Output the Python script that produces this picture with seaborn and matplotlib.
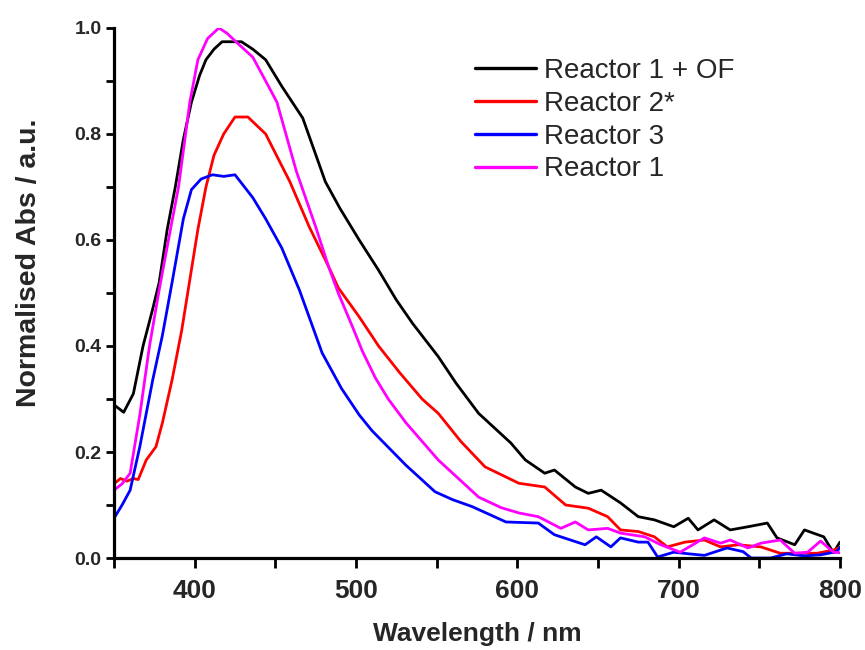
import matplotlib
matplotlib.use("Agg")
import matplotlib.pyplot as plt
from matplotlib.ticker import MultipleLocator, FormatStrFormatter
import pandas as pd
import seaborn as sns

# Absorbance spectra (normalised), wavelength in nm
wl_r1_of = [350, 356, 362, 368, 374, 378, 383, 388, 393, 398, 403, 407, 412, 417, 429,
            436, 444, 454, 467, 474, 481, 490, 502, 514, 525, 535, 551, 562, 576, 596,
            605, 617, 623, 636, 644, 652, 664, 675, 685, 697, 706, 712, 722, 732, 743,
            755, 761, 772, 778, 790, 796, 800]
abs_r1_of = [0.289, 0.275, 0.31, 0.40, 0.47, 0.52, 0.62, 0.70, 0.79, 0.86, 0.91, 0.94, 0.96,
             0.974, 0.974, 0.96, 0.94, 0.89, 0.83, 0.77, 0.71, 0.66, 0.60, 0.543, 0.487,
             0.443, 0.38, 0.33, 0.273, 0.217, 0.185, 0.16, 0.166, 0.134, 0.122, 0.128,
             0.104, 0.078, 0.072, 0.059, 0.075, 0.053, 0.072, 0.053, 0.059, 0.066, 0.038,
             0.025, 0.053, 0.04, 0.01, 0.03]

wl_r2 = [350, 354, 358, 362, 365, 370, 376, 380, 386, 392, 397, 402, 407, 412, 418,
         425, 433, 444, 459, 471, 483, 489, 502, 514, 527, 541, 551, 565, 580, 601, 617,
         630, 644, 656, 664, 675, 685, 693, 704, 716, 726, 737, 751, 763, 775, 786, 796, 800]
abs_r2 = [0.14, 0.15, 0.145, 0.15, 0.148, 0.185, 0.21, 0.255, 0.336, 0.43, 0.525,
          0.62, 0.70, 0.76, 0.80, 0.832, 0.832, 0.80, 0.71, 0.625, 0.55, 0.51, 0.455, 0.40,
          0.35, 0.30, 0.273, 0.22, 0.172, 0.141, 0.134, 0.10, 0.094, 0.078, 0.053, 0.05,
          0.04, 0.021, 0.03, 0.034, 0.021, 0.025, 0.021, 0.009, 0.009, 0.009, 0.015, 0.02]

wl_r3 = [350, 355, 360, 366, 374, 380, 386, 393, 398, 404, 411, 418, 425, 436, 444,
         454, 465, 479, 491, 502, 510, 531, 549, 560, 572, 593, 613, 623, 642, 649, 658,
         664, 675, 681, 687, 697, 706, 716, 730, 740, 745, 757, 767, 778, 788, 798, 800]
abs_r3 = [0.075, 0.10, 0.128, 0.21, 0.336, 0.42, 0.52, 0.64, 0.695, 0.715, 0.723,
          0.72, 0.723, 0.68, 0.64, 0.585, 0.505, 0.387, 0.32, 0.27, 0.24, 0.175, 0.125,
          0.11, 0.097, 0.068, 0.066, 0.044, 0.025, 0.04, 0.021, 0.038, 0.03, 0.03, 0.002,
          0.011, 0.008, 0.005, 0.019, 0.012, 0.0, 0.0, 0.008, 0.004, 0.006, 0.012, 0.02]

wl_r1 = [350, 355, 360, 366, 372, 378, 385, 390, 397, 402, 408, 415, 420, 427, 436,
         444, 451, 463, 475, 483, 489, 498, 504, 512, 520, 531, 551, 576, 590, 601, 613,
         627, 636, 644, 656, 664, 679, 689, 701, 716, 726, 732, 743, 751, 763, 772, 780,
         788, 796, 800]
abs_r1 = [0.128, 0.14, 0.16, 0.27, 0.40, 0.506, 0.62, 0.70, 0.86, 0.94, 0.98, 1.0,
          0.99, 0.97, 0.945, 0.90, 0.86, 0.73, 0.625, 0.55, 0.50, 0.435, 0.39, 0.34, 0.30,
          0.255, 0.185, 0.115, 0.095, 0.085, 0.078, 0.056, 0.068, 0.053, 0.056, 0.047,
          0.04, 0.025, 0.011, 0.038, 0.028, 0.034, 0.019, 0.028, 0.034, 0.009, 0.011,
          0.032, 0.011, 0.01]

labels = ["Reactor 1 + OF", "Reactor 2*", "Reactor 3", "Reactor 1"]
colors = ["#000000", "#ff0000", "#0000ff", "#ff00ff"]

frames = []
for name, wl, ab in zip(labels,
                        [wl_r1_of, wl_r2, wl_r3, wl_r1],
                        [abs_r1_of, abs_r2, abs_r3, abs_r1]):
    frames.append(pd.DataFrame({"Wavelength": wl, "Abs": ab, "Sample": name}))
df = pd.concat(frames, ignore_index=True)

sns.set_style("ticks")
plt.rcParams["font.family"] = ["Liberation Sans", "DejaVu Sans"]

fig = plt.figure(figsize=(8.65, 6.5), dpi=100)
ax = fig.add_axes([0.1318, 0.1415, 0.8392, 0.8155])

sns.lineplot(data=df, x="Wavelength", y="Abs", hue="Sample", hue_order=labels,
             palette=colors, estimator=None, sort=False, linewidth=2.0, ax=ax)

ax.set_xlim(350, 800)
ax.set_ylim(0, 1.0)
ax.xaxis.set_major_locator(MultipleLocator(100))
ax.xaxis.set_minor_locator(MultipleLocator(50))
ax.yaxis.set_major_locator(MultipleLocator(0.2))
ax.yaxis.set_minor_locator(MultipleLocator(0.1))
ax.yaxis.set_major_formatter(FormatStrFormatter("%.1f"))

for side in ["top", "right"]:
    ax.spines[side].set_visible(False)
for side in ["left", "bottom"]:
    ax.spines[side].set_linewidth(2.3)
    ax.spines[side].set_color("black")

ax.tick_params(axis="x", which="both", direction="out", width=2.0, length=7,
               color="black")
ax.tick_params(axis="y", which="both", direction="out", width=2.0, length=6,
               color="black")
ax.tick_params(axis="x", which="major", labelsize=19, pad=8)
ax.tick_params(axis="y", which="major", labelsize=14, pad=3)
for lab in ax.get_xticklabels() + ax.get_yticklabels():
    lab.set_fontweight("bold")

ax.set_xlabel("Wavelength / nm", fontsize=19, fontweight="bold")
ax.set_ylabel("Normalised Abs / a.u.", fontsize=20.5, fontweight="bold")
ax.xaxis.set_label_coords(0.5, -0.12)
ax.yaxis.set_label_coords(-0.099, 0.557)

handles, _ = ax.get_legend_handles_labels()
for h in handles:
    h.set_linewidth(2.4)
ax.legend(handles, labels, loc="upper left", bbox_to_anchor=(0.482, 0.965),
          frameon=False, fontsize=20, handlelength=2.2, handletextpad=0.3,
          labelspacing=0.25, borderaxespad=0.0)

fig.savefig("out.png", dpi=100)
